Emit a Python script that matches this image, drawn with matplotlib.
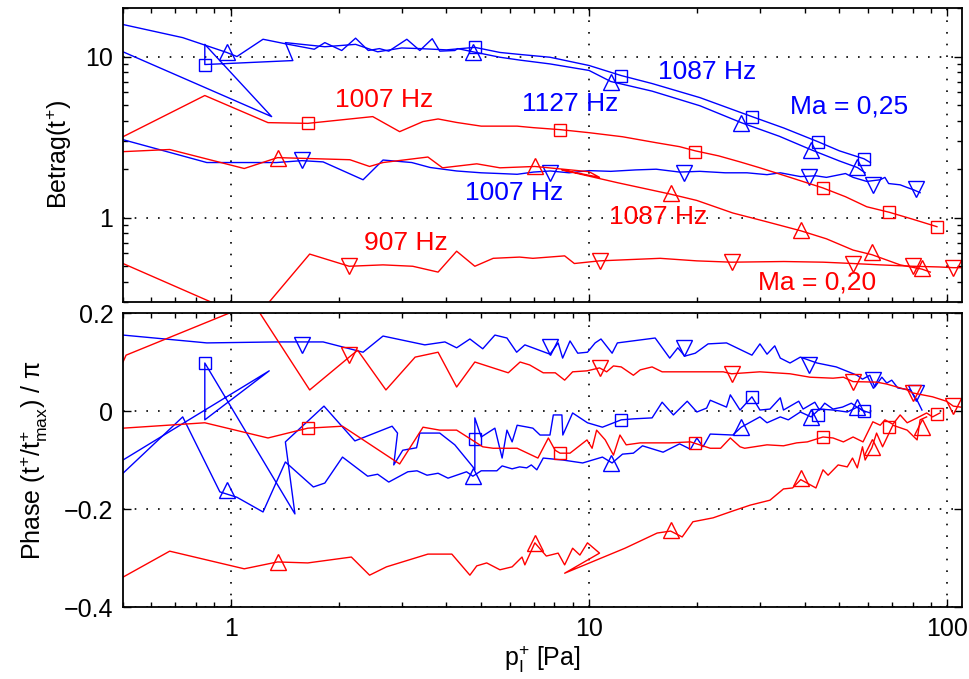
import numpy as np
import matplotlib
matplotlib.use("Agg")
import matplotlib.pyplot as plt
from matplotlib.ticker import LogLocator, NullFormatter, FixedLocator, FixedFormatter

plt.rcParams['font.family'] = ['Liberation Sans', 'DejaVu Sans']
plt.rcParams['mathtext.fontset'] = 'custom'
plt.rcParams['mathtext.rm'] = 'Liberation Sans'
plt.rcParams['mathtext.it'] = 'Liberation Sans:italic'

# ---- Ma = 0,25 (blue) ----
# 1007 Hz
b1007_x = [0.5, 0.857, 1.34, 1.58, 1.81, 2.34, 2.66, 3.2, 3.6, 4.27, 5.0, 5.64, 6.3, 7.0, 7.8, 8.8, 10.0, 11.5, 13.5,
           15.4, 17.9, 20.4, 24, 27.6, 31.4, 34.2, 38.9, 43, 46, 52, 54.6, 59.6, 65, 67, 68.6, 73.9, 77.3, 80.6, 84]
b1007_mag = [3.05, 2.2, 2.2, 2.26, 2.22, 1.72, 2.28, 2.2, 2.05, 1.95, 1.9, 1.88, 1.86, 1.92, 1.95, 1.9, 1.96, 1.94, 1.98,
             2.0, 1.92, 1.94, 1.9, 1.9, 1.85, 1.9, 1.8, 1.82, 1.78, 1.88, 1.78, 1.68, 1.72, 1.78, 1.63, 1.6, 1.54, 1.49, 1.43]
b1007_px = [0.5, 0.857, 1.34, 1.81, 2.34, 2.66, 3.48, 3.96, 4.27, 4.65, 5.05, 5.46, 5.9, 6.28, 6.62, 7.78, 8.2, 8.44,
            8.85, 9.3, 9.9, 10.4, 10.8, 11.6, 12.0, 15.3, 16.8, 17.7, 18.5, 19.8, 21.5, 24.2, 28.5, 30, 31.4, 33, 34.2,
            36.4, 38.9, 43.3, 49, 56, 58, 60.8, 62.8, 65.7, 67.8, 70, 72.8, 78.9, 82.4, 85]
b1007_phase = [0.155, 0.139, 0.141, 0.141, 0.12, 0.153, 0.135, 0.141, 0.129, 0.147, 0.127, 0.155, 0.149, 0.12, 0.135,
               0.116, 0.139, 0.108, 0.143, 0.118, 0.12, 0.139, 0.147, 0.118, 0.139, 0.149, 0.108, 0.129, 0.112, 0.118,
               0.137, 0.139, 0.114, 0.137, 0.116, 0.133, 0.108, 0.098, 0.11, 0.098, 0.09, 0.073, 0.065, 0.073, 0.049,
               0.069, 0.057, 0.063, 0.047, 0.043, 0.022, 0.002]
b1007_mx = [1.58, 7.8, 18.4, 41, 62, 82]
b1007_mmag = [2.29, 1.9, 1.9, 1.8, 1.6, 1.5]
b1007_mph = [0.135, 0.131, 0.128, 0.094, 0.063, 0.037]

# 1087 Hz
b1087_x = [0.5, 1.30, 0.846, 0.846, 1.49, 1.42, 1.83, 2.23, 2.57, 3.0, 3.37, 4.0, 4.8, 5.64, 6.42, 7.78, 10.0, 12.3,
           15, 20.4, 28.5, 35, 43.6, 50, 58.6, 61]
b1087_mag = [10.7, 4.24, 11.9, 8.92, 9.44, 12.2, 11.5, 11.9, 10.7, 11.3, 11.2, 11.0, 11.4, 10.6, 10.3, 9.9, 8.8, 7.62,
             6.8, 5.56, 4.24, 3.6, 2.96, 2.6, 2.32, 2.2]
b1087_px = [0.5, 1.28, 0.846, 0.846, 1.51, 1.42, 1.82, 2.22, 2.82, 2.92, 2.85, 3.02, 3.3, 3.37, 3.83, 4.22, 4.74, 4.8,
            4.8, 5.0, 5.46, 5.72, 5.9, 6.1, 6.3, 6.75, 6.97, 7.3, 7.78, 7.95, 8.4, 8.45, 9.0, 9.9, 10.9, 12.3, 13.3, 15,
            16, 17.2, 18.8, 20, 21.3, 21.8, 24.2, 24.8, 26.4, 28.5, 30, 32, 34.2, 34.9, 38.5, 39.6, 42.7, 44, 45.5, 48,
            51, 54, 56.5, 58.6, 61]
b1087_phase = [-0.1, 0.082, -0.018, 0.098, -0.21, -0.063, 0.01, -0.061, -0.031, -0.045, -0.11, -0.08, -0.075, -0.045,
               -0.045, -0.069, -0.114, -0.12, -0.014, -0.053, -0.035, -0.096, -0.039, -0.063, -0.029, -0.033, -0.035,
               -0.049, -0.049, -0.008, -0.008, -0.049, -0.004, -0.024, -0.033, -0.018, -0.016, -0.014, 0.018, -0.008,
               0.02, -0.002, 0.006, 0.022, 0.008, 0.033, 0.002, 0.029, 0.002, 0.004, 0.027, 0.002, 0.02, 0.004, 0.018,
               0.002, 0.016, 0.004, 0.008, 0.016, 0.006, 0.0, -0.004]
b1087_mx = [0.846, 4.8, 12.3, 28.5, 43.6, 58.6]
b1087_mmag = [8.92, 11.4, 7.62, 4.24, 2.96, 2.32]
b1087_mph = [0.098, -0.057, -0.018, 0.029, -0.008, 0.0]

# 1127 Hz
b1127_x = [0.5, 0.734, 0.974, 1.04, 1.23, 1.42, 1.71, 1.83, 2.04, 2.23, 2.42, 2.6, 2.76, 3.1, 3.37, 3.65, 3.83, 4.22,
           4.3, 4.74, 5.64, 6.42, 7.78, 10.0, 11.5, 15, 20.4, 26.6, 34, 41.7, 50, 56.1, 59]
b1127_mag = [15.8, 13.1, 10.6, 10.0, 12.8, 12.0, 11.1, 12.2, 10.9, 13.0, 10.9, 11.2, 10.8, 12.8, 10.9, 12.9, 10.8, 10.9,
             11.2, 10.7, 9.9, 9.5, 9.0, 8.2, 7.0, 6.1, 4.95, 3.89, 3.2, 2.64, 2.25, 2.05, 1.9]
b1127_px = [0.5, 0.734, 0.932, 1.04, 1.23, 1.42, 1.7, 1.83, 2.05, 2.41, 2.57, 2.76, 3.12, 3.31, 3.53, 3.79, 4.04, 4.55,
            4.74, 5.0, 5.53, 5.72, 6.1, 6.4, 6.7, 6.9, 7.15, 7.45, 8.45, 9.6, 10.9, 11.6, 12.4, 13.3, 14.1, 16.1, 17.9,
            19.2, 20, 20.8, 21.8, 25.2, 26.6, 30, 31.4, 34.2, 36, 38.9, 41.7, 44, 48, 52.6, 56.1, 59]
b1127_phase = [-0.127, -0.012, -0.165, -0.176, -0.206, -0.104, -0.155, -0.147, -0.094, -0.133, -0.129, -0.145, -0.124,
               -0.122, -0.131, -0.127, -0.137, -0.124, -0.133, -0.122, -0.122, -0.112, -0.118, -0.114, -0.116, -0.11,
               -0.12, -0.096, -0.1, -0.106, -0.094, -0.106, -0.088, -0.086, -0.071, -0.084, -0.067, -0.078, -0.055,
               -0.073, -0.047, -0.049, -0.033, -0.012, -0.024, -0.012, -0.018, -0.002, -0.012, 0.004, 0.002, -0.002,
               0.008, -0.002]
b1127_mx = [0.974, 4.74, 11.5, 26.6, 41.7, 56.1]
b1127_mmag = [10.6, 10.7, 7.0, 3.89, 2.64, 2.05]
b1127_mph = [-0.161, -0.133, -0.106, -0.033, -0.012, 0.008]

# ---- Ma = 0,20 (red) ----
# 907 Hz
r907_x = [0.5, 1.157, 1.66, 2.14, 2.66, 3.22, 3.79, 4.27, 4.8, 5.4, 6.4, 6.97, 8.55, 9.1, 10.7, 13, 15.8, 20, 25, 35,
          45, 54.6, 65, 80, 95, 104, 109]
r907_mag = [0.52, 0.23, 0.595, 0.50, 0.51, 0.5, 0.46, 0.62, 0.5, 0.56, 0.57, 0.56, 0.58, 0.52, 0.54, 0.55, 0.56, 0.54,
            0.53, 0.535, 0.53, 0.52, 0.51, 0.5, 0.495, 0.49, 0.49]
r907_px = [0.5, 0.51, 1.157, 1.66, 2.14, 2.26, 2.71, 3.27, 3.79, 4.27, 4.8, 5.95, 6.42, 6.83, 7.45, 8.05, 8.55, 9.0,
           9.87, 10.7, 11.2, 11.7, 12.3, 13.3, 13.9, 15, 16, 18.3, 21.3, 23.7, 25, 30, 36.4, 41.4, 48, 51.3, 54.6, 63.5,
           67.8, 77.3, 80, 91, 99.5, 104, 109]
r907_phase = [0.1, 0.114, 0.22, 0.043, 0.11, 0.124, 0.043, 0.11, 0.12, 0.049, 0.1, 0.078, 0.1, 0.094, 0.078, 0.078,
              0.063, 0.08, 0.082, 0.088, 0.08, 0.092, 0.09, 0.073, 0.084, 0.09, 0.08, 0.08, 0.08, 0.08, 0.076, 0.08,
              0.076, 0.069, 0.067, 0.069, 0.06, 0.059, 0.055, 0.043, 0.037, 0.029, 0.02, 0.01, 0.008]
r907_mx = [2.14, 10.7, 25, 54.6, 80, 104]
r907_mmag = [0.50, 0.54, 0.53, 0.52, 0.5, 0.49]
r907_mph = [0.114, 0.088, 0.076, 0.06, 0.037, 0.01]

# 1007 Hz
r1007_x = [0.5, 0.846, 1.27, 1.64, 2.49, 2.96, 3.44, 3.79, 4.27, 5.0, 6.3, 7.0, 8.3, 10, 12.4, 15.4, 17.9, 19.8, 23,
           26.4, 30, 36.4, 45, 52, 59.6, 69, 80, 93.6]
r1007_mag = [3.18, 5.73, 3.89, 3.85, 4.24, 3.42, 3.95, 4.1, 3.9, 3.7, 3.7, 3.62, 3.52, 3.37, 3.18, 2.92, 2.76, 2.6,
             2.42, 2.22, 2.04, 1.78, 1.53, 1.35, 1.17, 1.08, 0.98, 0.88]
r1007_px = [0.5, 0.846, 1.27, 1.64, 2.05, 2.96, 3.44, 3.83, 4.27, 5.05, 5.4, 6.3, 7.2, 7.7, 8.04, 8.3, 8.85, 9.87,
            10.2, 10.5, 11.1, 11.7, 12.2, 12.7, 13.9, 15.4, 16.8, 19.2, 21.8, 23.3, 24.8, 26.4, 27.2, 31.4, 34.9, 38,
            40.7, 45, 48, 51.3, 54.6, 58.2, 62, 65, 67, 70.5, 73.9, 77.3, 82.4, 87.6, 91, 95.4]
r1007_phase = [-0.035, -0.024, -0.055, -0.035, -0.031, -0.108, -0.033, -0.039, -0.039, -0.073, -0.076, -0.076, -0.096,
               -0.055, -0.08, -0.086, -0.086, -0.059, -0.076, -0.039, -0.059, -0.09, -0.049, -0.069, -0.065, -0.065,
               -0.065, -0.063, -0.076, -0.076, -0.055, -0.073, -0.076, -0.069, -0.071, -0.065, -0.063, -0.053, -0.055,
               -0.063, -0.053, -0.063, -0.022, -0.029, -0.018, -0.027, -0.008, -0.024, -0.014, -0.004, -0.012, -0.004]
r1007_mx = [1.64, 8.3, 19.8, 45, 69, 93.6]
r1007_mmag = [3.85, 3.52, 2.57, 1.53, 1.08, 0.88]
r1007_mph = [-0.035, -0.086, -0.065, -0.053, -0.033, -0.006]

# 1087 Hz
r1087_x = [0.5, 0.675, 1.09, 1.35, 2.15, 2.44, 2.66, 3.55, 3.9, 4.86, 5.64, 7.06, 10, 10.7, 8.4, 12, 16.9, 20, 25.2,
           31, 39, 46, 54.6, 61.6, 73.9, 85, 89.7]
r1087_mag = [2.57, 2.65, 2.02, 2.36, 2.29, 2.08, 2.2, 2.38, 2.04, 2.16, 2.04, 2.08, 1.93, 1.78, 1.98, 1.65, 1.4, 1.28,
             1.07, 0.95, 0.83, 0.74, 0.63, 0.59, 0.51, 0.48, 0.46]
r1087_px = [0.5, 0.675, 1.09, 1.35, 1.64, 2.17, 2.44, 2.72, 3.55, 4.14, 4.65, 4.86, 5.18, 5.64, 6.1, 6.5, 6.62, 7.06,
            7.6, 8.2, 8.55, 9.0, 9.43, 9.9, 10.7, 8.55, 12.6, 15.5, 16.9, 18.2, 19.5, 22.2, 25.2, 28.2, 32, 34.9, 37,
            39, 43, 45, 46.5, 49.6, 52.6, 54.4, 56.1, 58, 59, 61.6, 63.5, 66, 70.5, 77.3, 82.4, 84, 87.6]
r1087_phase = [-0.339, -0.286, -0.322, -0.308, -0.31, -0.298, -0.335, -0.318, -0.292, -0.292, -0.335, -0.316, -0.31,
               -0.324, -0.318, -0.298, -0.314, -0.269, -0.296, -0.29, -0.314, -0.28, -0.294, -0.269, -0.29, -0.331,
               -0.28, -0.249, -0.245, -0.257, -0.226, -0.218, -0.204, -0.192, -0.182, -0.159, -0.157, -0.14, -0.157,
               -0.12, -0.131, -0.11, -0.114, -0.096, -0.116, -0.073, -0.1, -0.075, -0.045, -0.073, -0.029, -0.039,
               -0.059, -0.018, -0.012]
r1087_mx = [1.35, 7.06, 16.9, 39, 61.6, 85]
r1087_mmag = [2.36, 2.08, 1.43, 0.84, 0.61, 0.49]
r1087_mph = [-0.308, -0.269, -0.243, -0.137, -0.073, -0.033]

blue = (0, 0, 1)
red = (1, 0, 0)

series = [
    (b1007_x, b1007_mag, b1007_px, b1007_phase, b1007_mx, b1007_mmag, b1007_mph, blue, 'v', 12),
    (b1087_x, b1087_mag, b1087_px, b1087_phase, b1087_mx, b1087_mmag, b1087_mph, blue, 's', 9),
    (b1127_x, b1127_mag, b1127_px, b1127_phase, b1127_mx, b1127_mmag, b1127_mph, blue, '^', 12),
    (r907_x, r907_mag, r907_px, r907_phase, r907_mx, r907_mmag, r907_mph, red, 'v', 12),
    (r1007_x, r1007_mag, r1007_px, r1007_phase, r1007_mx, r1007_mmag, r1007_mph, red, 's', 9),
    (r1087_x, r1087_mag, r1087_px, r1087_phase, r1087_mx, r1087_mmag, r1087_mph, red, '^', 12),
]

fig = plt.figure(figsize=(9.7, 6.79), dpi=100)
axT = fig.add_axes([0.1268, 0.5552, 0.8650, 0.4330])
axB = fig.add_axes([0.1268, 0.1060, 0.8650, 0.4330])

for x, mag, px, ph, mx, mmag, mph, col, mk, ms in series:
    axT.plot(x, mag, color=col, lw=1.0)
    axT.plot(mx, mmag, ls='none', marker=mk, ms=ms, mfc='none', mec=col, mew=1.0)
    axB.plot(px, ph, color=col, lw=1.0)
    axB.plot(mx, mph, ls='none', marker=mk, ms=ms, mfc='none', mec=col, mew=1.0)

dots = (0, (1, 6))
for ax in (axT, axB):
    ax.set_xscale('log')
    ax.set_xlim(0.5, 110)
    ax.tick_params(which='both', direction='in', top=True, right=True, labelsize=18, width=1.0)
    ax.tick_params(which='major', length=6, pad=7)
    ax.tick_params(which='minor', length=3.5)
    ax.xaxis.set_major_locator(FixedLocator([1, 10, 100]))
    ax.xaxis.set_minor_locator(LogLocator(base=10, subs=np.arange(2, 10)))
    ax.grid(True, which='major', color='k', ls=dots, lw=1.2)
    for s in ax.spines.values():
        s.set_linewidth(1.3)

axT.set_yscale('log')
axT.set_ylim(0.3, 20)
axT.yaxis.set_major_locator(FixedLocator([1, 10]))
axT.yaxis.set_major_formatter(FixedFormatter(['1', '10']))
axT.yaxis.set_minor_locator(LogLocator(base=10, subs=np.arange(2, 10)))
axT.yaxis.set_minor_formatter(NullFormatter())
axT.xaxis.set_major_formatter(NullFormatter())
axT.xaxis.set_minor_formatter(NullFormatter())
axT.set_ylabel('Betrag(t$^{+}$)', fontsize=18)
axT.yaxis.set_label_coords(-0.058, 0.5)

axB.set_ylim(-0.4, 0.2)
axB.yaxis.set_major_locator(FixedLocator([-0.4, -0.2, 0, 0.2]))
axB.yaxis.set_major_formatter(FixedFormatter(['\u22120.4', '\u22120.2', '0', '0.2']))
axB.xaxis.set_major_formatter(FixedFormatter(['1', '10', '100']))
axB.xaxis.set_minor_formatter(NullFormatter())
axB.set_ylabel('Phase (t$^{+}$/t$^{+}_{\\mathrm{max}}$) / \u03c0', fontsize=18)
axB.yaxis.set_label_coords(-0.087, 0.5)
axB.set_xlabel('p$^{+}_{\\mathrm{I}}$ [Pa]', fontsize=18)
axB.xaxis.set_label_coords(0.5, -0.125)

# curve annotations
fs = 19
axT.text(1.95, 5.4, '1007 Hz', color=red, fontsize=fs, va='center')
axT.text(6.5, 5.1, '1127 Hz', color=blue, fontsize=fs, va='center')
axT.text(15.6, 8.07, '1087 Hz', color=blue, fontsize=fs, va='center')
axT.text(36.4, 4.9, 'Ma = 0,25', color=blue, fontsize=fs, va='center')
axT.text(4.5, 1.43, '1007 Hz', color=blue, fontsize=fs, va='center')
axT.text(11.4, 1.01, '1087 Hz', color=red, fontsize=fs, va='center')
axT.text(2.35, 0.70, '907 Hz', color=red, fontsize=fs, va='center')
axT.text(29.6, 0.394, 'Ma = 0,20', color=red, fontsize=fs, va='center')

fig.savefig('out.png', dpi=100)
